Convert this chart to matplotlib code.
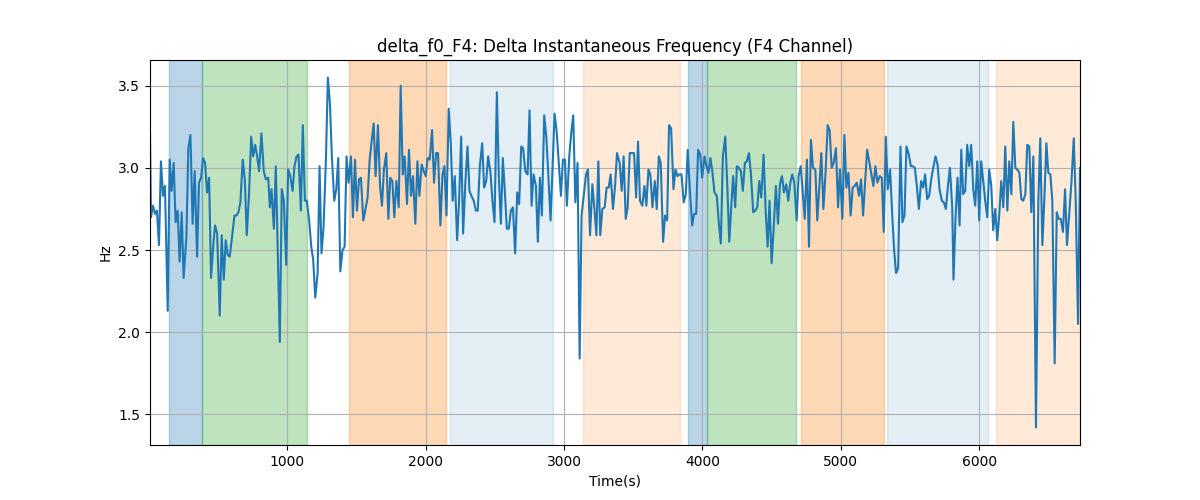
import numpy as np
import matplotlib
matplotlib.use("Agg")
import matplotlib.pyplot as plt

# time axis (s) and delta f0 values (Hz)
time = [9, 16, 30, 45, 59, 74, 88, 103, 117, 137, 151, 165, 180, 194, 209, 223, 238, 252, 272, 286,
        301, 317, 332, 349, 363, 378, 392, 407, 421, 436, 450, 465, 479, 494, 513, 527, 542, 556, 571, 585,
        602, 619, 633, 648, 662, 679, 694, 708, 725, 740, 754, 769, 783, 797, 814, 831, 846,
        863, 875, 887, 904, 918, 947, 961, 976, 993, 1007, 1022, 1039, 1053, 1068, 1082, 1099, 1113, 1128, 1142,
        1159, 1174, 1188, 1203, 1220, 1234, 1248, 1263, 1280, 1294, 1309, 1323, 1340, 1355, 1369, 1384, 1400,
        1415, 1429, 1444, 1461, 1475, 1490, 1504, 1519, 1533, 1550, 1564, 1581, 1596, 1610, 1625, 1639, 1656,
        1671, 1685, 1699,
        1716, 1731, 1745, 1760, 1774, 1789, 1806, 1820, 1835, 1849, 1866, 1880, 1895, 1909, 1926, 1941, 1955,
        1972, 1987, 2001, 2015, 2030, 2047, 2061, 2076, 2090, 2107, 2122, 2136, 2151, 2167, 2182, 2196, 2211,
        2228, 2242, 2257, 2271, 2288, 2303, 2317, 2331, 2348, 2363, 2377, 2392, 2409, 2423, 2438, 2452, 2469,
        2483, 2498, 2515, 2529, 2544,
        2558, 2573, 2587, 2602, 2616, 2631, 2647, 2662, 2676, 2691, 2705, 2720, 2737, 2751, 2766, 2780, 2797,
        2811, 2826, 2840, 2857, 2872, 2886, 2903, 2918, 2932, 2946, 2961, 2978, 2992, 3007, 3021, 3038, 3053,
        3067, 3082, 3098, 3113, 3127, 3142, 3159, 3173, 3188, 3205, 3219, 3234, 3248, 3262, 3277, 3294, 3308,
        3323, 3337, 3354, 3369, 3383,
        3402, 3417, 3431, 3446, 3460, 3475, 3489, 3506, 3521, 3535, 3549, 3566, 3581, 3595, 3610, 3624, 3639,
        3656, 3670, 3685, 3699, 3716, 3730, 3745, 3759, 3774, 3791, 3805, 3820, 3834, 3849, 3865, 3880, 3894,
        3909, 3926, 3940, 3955, 3969, 3984, 3998, 4015, 4029, 4044, 4058, 4073, 4087, 4104, 4119, 4133, 4148,
        4165, 4179, 4194, 4208, 4222, 4237,
        4249, 4263, 4278, 4292, 4307, 4321, 4336, 4350, 4367, 4382, 4396, 4411, 4425, 4442, 4456, 4471, 4485,
        4500, 4514, 4531, 4546, 4560, 4575, 4589, 4606, 4620, 4635, 4649, 4664, 4681, 4695, 4710, 4724, 4739,
        4755, 4770, 4784, 4799, 4816, 4830, 4845, 4859, 4874, 4891, 4905, 4919, 4934, 4948, 4965, 4980, 4994,
        5011, 5026, 5040, 5055, 5071, 5086,
        5100, 5115, 5132, 5146, 5161, 5175, 5190, 5207, 5221, 5235, 5250, 5264, 5281, 5296, 5310, 5325, 5339,
        5356, 5371, 5385, 5399, 5414, 5431, 5445, 5460, 5474, 5489, 5506, 5520, 5535, 5549, 5564, 5580, 5595,
        5609, 5624, 5638, 5655, 5670, 5684, 5699, 5713, 5730, 5744, 5759, 5773, 5788, 5805, 5814, 5829, 5843,
        5858, 5870, 5884, 5899, 5913, 5928,
        5942, 5957, 5971, 5986, 6000, 6014, 6029, 6043, 6058, 6072, 6087, 6101, 6116, 6130, 6145, 6159, 6174,
        6188, 6203, 6217, 6232, 6246, 6261, 6275, 6290, 6304, 6318, 6333, 6347, 6362, 6376, 6391, 6410, 6427,
        6441, 6456, 6470, 6485, 6499, 6514, 6528, 6545, 6560, 6574, 6589, 6605, 6620, 6634, 6649, 6666, 6683,
        6697, 6714, 6728]

delta_f0 = [3.22, 2.70, 2.77, 2.72, 2.74, 2.53, 3.04, 2.83, 2.89, 2.13, 3.05, 2.86, 3.03, 2.67, 2.74, 2.43, 2.73, 2.33, 2.58, 3.12,
            3.20, 2.66, 2.98, 2.46, 2.91, 2.94, 3.06, 3.03, 2.85, 2.94, 2.33, 2.52, 2.65, 2.60, 2.10, 2.59, 2.32, 2.56, 2.47, 2.46,
            2.58, 2.71, 2.71, 2.73, 2.79, 3.05, 2.93, 2.59, 2.85, 3.19, 3.07, 3.14, 3.07, 2.98, 3.21, 2.98, 2.93,
            2.94, 2.76, 2.87, 2.63, 3.01, 1.94, 2.87, 2.80, 2.41, 2.99, 2.95, 2.86, 3.01, 3.07, 3.08, 2.74, 3.26, 2.80, 2.80,
            2.68, 2.52, 2.44, 2.21, 2.36, 3.01, 2.48, 2.64, 3.05, 3.55, 3.39, 3.07, 2.80, 2.87, 3.06, 2.37, 2.50,
            2.52, 3.07, 2.91, 3.07, 2.70, 3.05, 2.74, 2.93, 2.94, 2.68, 2.74, 2.82, 3.05, 3.16, 3.27, 2.95, 3.26,
            2.89, 2.77, 2.99,
            3.09, 2.69, 2.94, 2.92, 2.70, 2.92, 2.76, 3.50, 2.96, 3.07, 2.78, 3.11, 2.83, 2.95, 2.66, 3.04, 2.83,
            3.02, 2.98, 2.95, 3.06, 3.05, 3.23, 2.91, 3.09, 3.09, 2.65, 2.96, 3.01, 2.71, 3.36, 3.15, 2.80, 2.95,
            2.56, 2.80, 3.19, 2.60, 2.92, 3.13, 2.86, 2.83, 2.80, 2.74, 2.74, 3.01, 3.15, 2.88, 2.92, 3.07, 2.97,
            2.80, 2.67, 3.46, 2.95, 2.66,
            3.06, 2.85, 2.63, 2.63, 2.74, 2.76, 2.48, 2.85, 2.78, 3.13, 3.12, 2.98, 2.96, 3.35, 2.77, 2.96, 2.89,
            2.55, 2.94, 2.71, 3.32, 3.19, 2.97, 2.68, 3.01, 3.33, 3.23, 3.05, 2.83, 3.05, 3.05, 2.77, 3.07, 3.22,
            3.32, 2.79, 3.03, 1.84, 2.71, 2.83, 2.96, 2.99, 2.59, 2.90, 2.76, 2.59, 3.04, 2.59, 2.75, 2.76, 2.88,
            2.88, 2.96, 2.75, 2.89, 3.09,
            3.03, 2.86, 3.07, 2.69, 2.76, 3.09, 3.09, 3.09, 2.82, 3.16, 2.80, 2.77, 2.89, 2.77, 2.99, 2.96, 2.76,
            2.92, 2.75, 3.07, 3.03, 2.55, 2.71, 2.68, 3.26, 3.24, 2.87, 2.99, 2.95, 2.96, 2.96, 2.79, 2.84, 3.11,
            2.87, 2.65, 2.72, 2.72, 3.11, 3.08, 2.94, 3.07, 3.01, 2.97, 3.06, 2.97, 2.85, 2.83, 2.66, 2.54, 3.07,
            3.19, 2.91, 2.55, 2.76, 2.95, 2.76,
            3.01, 3.00, 2.98, 2.86, 3.03, 3.04, 3.09, 2.97, 2.73, 2.74, 2.76, 2.92, 2.82, 3.08, 2.76, 2.52, 2.80,
            2.42, 2.62, 2.89, 2.66, 2.90, 2.95, 2.85, 2.90, 2.80, 2.91, 2.96, 2.91, 2.68, 2.95, 3.01, 2.86, 2.69,
            3.05, 2.52, 3.17, 3.00, 2.99, 2.68, 2.89, 3.09, 2.75, 2.99, 3.26, 3.23, 3.00, 3.03, 3.12, 2.76, 2.99,
            2.69, 3.20, 2.88, 2.97, 2.71, 2.88,
            2.89, 2.91, 2.83, 2.93, 2.71, 2.91, 3.11, 3.03, 2.96, 2.89, 3.01, 2.91, 2.95, 2.94, 2.61, 3.19, 2.87,
            2.99, 2.72, 2.50, 2.36, 2.39, 3.13, 2.67, 2.71, 3.13, 3.09, 3.01, 3.01, 3.00, 2.89, 2.75, 2.92, 2.88,
            2.96, 2.81, 2.83, 2.94, 3.01, 3.07, 3.02, 2.87, 2.80, 2.79, 2.75, 2.88, 3.00, 2.76, 2.32, 2.70, 2.94,
            2.65, 3.11, 2.84, 2.86, 3.14, 3.01,
            3.14, 2.87, 2.77, 3.04, 2.68, 3.04, 2.92, 2.80, 2.70, 2.99, 2.89, 2.62, 2.75, 2.56, 2.72, 2.92, 2.76,
            3.13, 2.74, 3.04, 2.84, 3.28, 3.00, 2.99, 2.97, 2.81, 2.80, 2.84, 3.14, 3.13, 2.73, 3.07, 1.42, 2.80,
            3.18, 2.53, 2.80, 3.15, 2.97, 2.96, 2.80, 1.81, 2.73, 2.69, 2.69, 2.61, 2.87, 2.53, 2.71, 2.91, 3.18,
            2.80, 2.05, 3.00]

# shaded segments: start, end, kind
seg_start = [147, 386, 1449, 2180, 3137, 3894, 4036, 4712, 5332, 6118]
seg_end = [386, 1142, 2151, 2922, 3837, 4036, 4678, 5312, 6063, 6730]
seg_kind = ["blue", "green", "orange", "lightblue", "lightorange",
            "blue", "green", "orange", "lightblue", "lightorange"]

styles = {
    "blue": dict(color="tab:blue", alpha=0.3),
    "green": dict(color="tab:green", alpha=0.3),
    "orange": dict(color="tab:orange", alpha=0.3),
    "lightblue": dict(color="tab:blue", alpha=0.12),
    "lightorange": dict(color="tab:orange", alpha=0.16),
}

fig, ax = plt.subplots(figsize=(12, 5), dpi=100)

for s, e, k in zip(seg_start, seg_end, seg_kind):
    ax.axvspan(s, e, **styles[k])

ax.plot(time, delta_f0, color="tab:blue", linewidth=1.5)

ax.set_xlim(time[0], time[-1])
ax.set_title("delta_f0_F4: Delta Instantaneous Frequency (F4 Channel)")
ax.set_xlabel("Time(s)")
ax.set_ylabel("Hz")
ax.grid(True)

fig.savefig("out.png")
